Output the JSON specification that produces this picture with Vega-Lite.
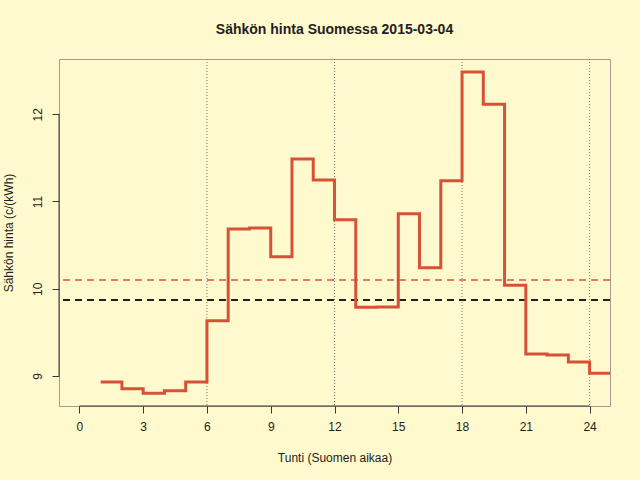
{
  "$schema": "https://vega.github.io/schema/vega-lite/v6.json",
  "autosize": "none",
  "width": 551,
  "height": 347,
  "padding": {"left": 59, "top": 59, "right": 30, "bottom": 74},
  "background": "#FFFACD",
  "title": {"text": "Sähkön hinta Suomessa 2015-03-04", "font": "Liberation Sans", "fontSize": 14, "fontWeight": "bold", "color": "#231d22", "anchor": "middle", "baseline": "alphabetic", "offset": 11},
  "config": {
    "view": {"stroke": "#A39D8C", "strokeWidth": 1, "fill": "#FFFACD"},
    "axis": {"labelFont": "Liberation Sans", "titleFont": "Liberation Sans", "labelFontSize": 12, "titleFontSize": 12, "titleFontWeight": "normal", "labelColor": "#231d22", "titleColor": "#231d22", "tickColor": "#3a3438", "tickSize": 7, "domain": false, "grid": false}
  },
  "datasets": {
    "prices": [
      {"tunti": 1, "hinta": 8.93},
      {"tunti": 2, "hinta": 8.853},
      {"tunti": 3, "hinta": 8.80},
      {"tunti": 4, "hinta": 8.83},
      {"tunti": 5, "hinta": 8.93},
      {"tunti": 6, "hinta": 9.633},
      {"tunti": 7, "hinta": 10.685},
      {"tunti": 8, "hinta": 10.696},
      {"tunti": 9, "hinta": 10.367},
      {"tunti": 10, "hinta": 11.487},
      {"tunti": 11, "hinta": 11.247},
      {"tunti": 12, "hinta": 10.791},
      {"tunti": 13, "hinta": 9.786},
      {"tunti": 14, "hinta": 9.79},
      {"tunti": 15, "hinta": 10.86},
      {"tunti": 16, "hinta": 10.24},
      {"tunti": 17, "hinta": 11.239},
      {"tunti": 18, "hinta": 12.485},
      {"tunti": 19, "hinta": 12.115},
      {"tunti": 20, "hinta": 10.039},
      {"tunti": 21, "hinta": 9.251},
      {"tunti": 22, "hinta": 9.24},
      {"tunti": 23, "hinta": 9.16},
      {"tunti": 24, "hinta": 9.03},
      {"tunti": 25, "hinta": 9.03}
    ],
    "vlines": [{"tunti": 6}, {"tunti": 12}, {"tunti": 18}, {"tunti": 24}],
    "hlines": [
      {"taso": 10.1, "sarja": "keskiarvo"},
      {"taso": 9.87, "sarja": "vertailu"}
    ]
  },
  "layer": [
    {
      "data": {"name": "vlines"},
      "mark": {"type": "rule", "strokeDash": [1, 2], "strokeWidth": 1, "color": "#7d7468"},
      "encoding": {
        "x": {"field": "tunti", "type": "quantitative", "scale": {"domain": [-0.96, 24.96], "nice": false, "zero": false},
              "axis": {"values": [0, 3, 6, 9, 12, 15, 18, 21, 24], "format": "d", "title": "Tunti (Suomen aikaa)", "labelPadding": 8, "titlePadding": 20, "labelFlush": false}}
      }
    },
    {
      "data": {"name": "hlines"},
      "mark": {"type": "rule", "strokeDash": [7, 5], "strokeWidth": 2},
      "encoding": {
        "y": {"field": "taso", "type": "quantitative", "scale": {"domain": [8.655, 12.634], "nice": false, "zero": false},
              "axis": {"values": [9, 10, 11, 12], "format": "d", "title": "Sähkön hinta (c/(kWh)", "labelAngle": -90, "labelAlign": "center", "labelBaseline": "bottom", "labelPadding": 8, "titlePadding": 16, "labelFlush": false}},
        "color": {"field": "sarja", "type": "nominal", "scale": {"domain": ["keskiarvo", "vertailu"], "range": ["#E67E66", "#231d2a"]}, "legend": null}
      }
    },
    {
      "data": {"name": "prices"},
      "mark": {"type": "line", "interpolate": "step-after", "strokeWidth": 3, "color": "#D65137", "clip": true},
      "encoding": {
        "x": {"field": "tunti", "type": "quantitative"},
        "y": {"field": "hinta", "type": "quantitative"}
      }
    },
    {
      "data": {"values": [{"a": 0, "b": 24, "c": 8.655}]},
      "mark": {"type": "rule", "color": "#3a3438", "strokeWidth": 1},
      "encoding": {
        "x": {"field": "a", "type": "quantitative"},
        "x2": {"field": "b"},
        "y": {"field": "c", "type": "quantitative"}
      }
    },
    {
      "data": {"values": [{"a": -0.96, "b": 9, "c": 12}]},
      "mark": {"type": "rule", "color": "#3a3438", "strokeWidth": 1},
      "encoding": {
        "x": {"field": "a", "type": "quantitative"},
        "y": {"field": "b", "type": "quantitative"},
        "y2": {"field": "c"}
      }
    }
  ]
}
